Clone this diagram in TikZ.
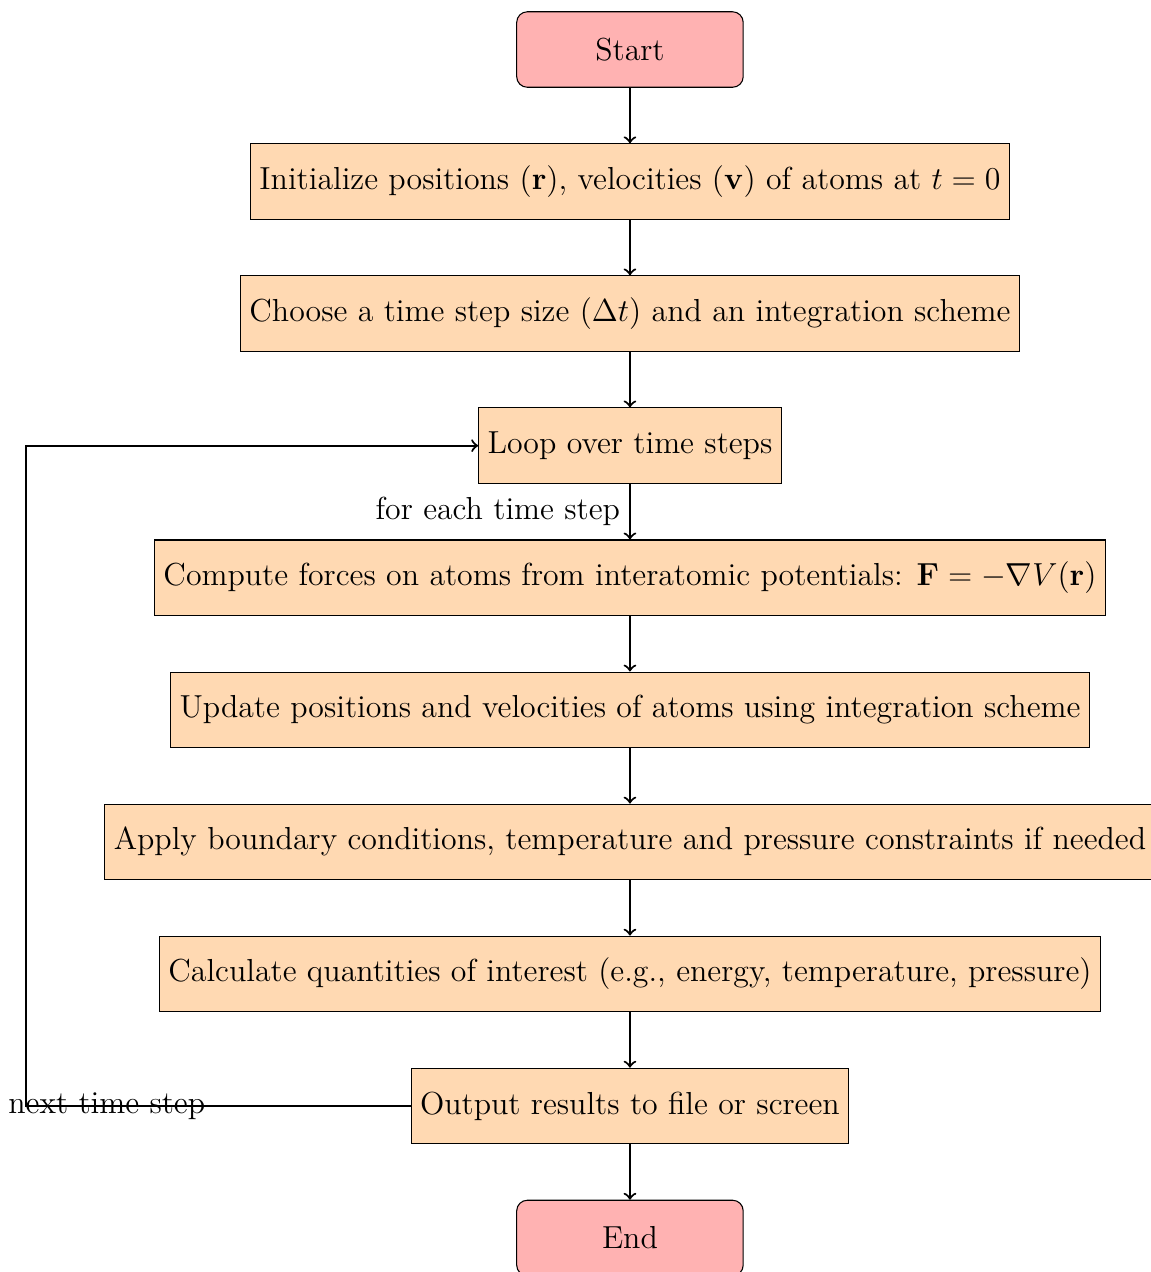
\documentclass[tikz,border=0pt]{standalone}
\usepackage{amsmath}
\usetikzlibrary{positioning}

\begin{document}
\begin{tikzpicture}[node distance=0.735cm,
    startstop/.style={rectangle, rounded corners, minimum width=3cm, minimum height=1cm, draw=black, fill=red!30, font=\large},
    process/.style={rectangle, minimum width=3cm, minimum height=1cm, draw=black, fill=orange!30, font=\large},
    arrow/.style={thick,->}]
    \useasboundingbox (-8.344,0.656) rectangle (6.901,-16.192);

    \node (start) [startstop] at (0,0) {Start};
    \node (init) [process, below=of start] {Initialize positions ($\mathbf{r}$), velocities ($\mathbf{v}$) of atoms at $t=0$};
    \node (choose) [process, below=of init] {Choose a time step size ($\Delta t$) and an integration scheme};
    \node (loop) [process, below=of choose] {Loop over time steps};
    \node (forces) [process, below=of loop] {Compute forces on atoms from interatomic potentials: $\mathbf{F} = -\nabla V(\mathbf{r})$};
    \node (update) [process, below=of forces] {Update positions and velocities of atoms using integration scheme};
    \node (apply) [process, below=of update] {Apply boundary conditions, temperature and pressure constraints if needed};
    \node (calc) [process, below=of apply] {Calculate quantities of interest (e.g., energy, temperature, pressure)};
    \node (output) [process, below=of calc] {Output results to file or screen};
    \node (end) [startstop, below=of output] {End};

    \coordinate (back) at (-8,0 |- output.west);

    \draw [arrow] (start) -- (init);
    \draw [arrow] (init) -- (choose);
    \draw [arrow] (choose) -- (loop);
    \draw [arrow] (loop) -- node[left, font=\large] {for each time step} (forces);
    \draw [arrow] (forces) -- (update);
    \draw [arrow] (update) -- (apply);
    \draw [arrow] (apply) -- (calc);
    \draw [arrow] (calc) -- (output);
    \draw [arrow] (output) -- (end);
    \draw [arrow] (output.west) -- node[pos=0.79, font=\large] {next time step} (back) |- (loop.west);
\end{tikzpicture}
\end{document}
